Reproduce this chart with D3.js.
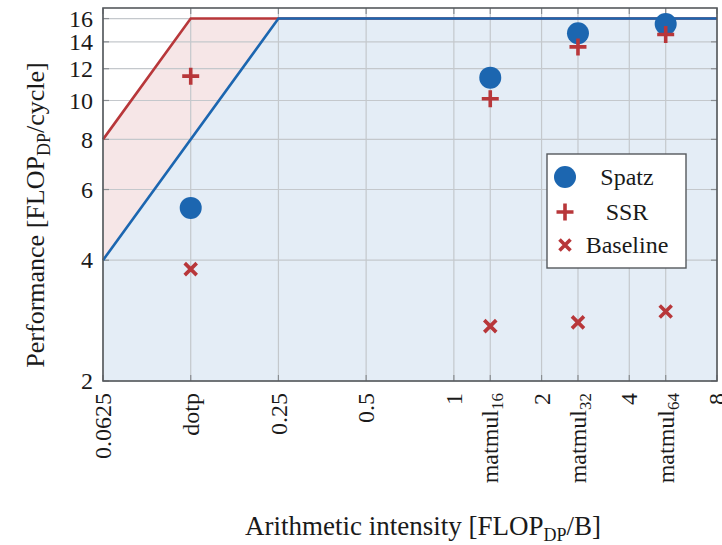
<!DOCTYPE html>
<html>
<head>
<meta charset="utf-8">
<script src="https://cdn.jsdelivr.net/npm/d3@7"></script>
<style>
  body { margin: 0; background: #fff; }
  svg { display: block; font-family: "Liberation Serif", "DejaVu Serif", serif; }
</style>
</head>
<body>
<svg id="chart" width="722" height="545"></svg>
<script>
// benchmark positions on the intensity axis
const kernels = ["dotp", "matmul16", "matmul32", "matmul64"];
const intensity = [0.125, 4 / 3, 8 / 3, 16 / 3];
const spatzPerf = [5.4, 11.4, 14.7, 15.5];
const ssrPerf = [11.5, 10.1, 13.6, 14.6];
const basePerf = [3.8, 2.74, 2.8, 2.98];

// rooflines: [intensity, performance] corners
const roofSSR = [[0.0625, 8], [0.125, 16], [8, 16]];
const roofSpatz = [[0.0625, 4], [0.25, 16], [8, 16]];

const xTicks = [0.0625, 0.125, 0.25, 0.5, 1, 4 / 3, 2, 8 / 3, 4, 16 / 3, 8];
const xTickLabels = ["0.0625", "dotp", "0.25", "0.5", "1", "matmul|16", "2", "matmul|32", "4", "matmul|64", "8"];
const yTicks = [2, 4, 6, 8, 10, 12, 14, 16];

const blue = "#1c66b0", red = "#b8373a", ink = "#1a1a1a";
const pl = 103, pr = 717, pt = 8, pb = 381;

const svg = d3.select("#chart");
const x = d3.scaleLog().base(2).domain([0.0625, 8]).range([pl, pr]);
const y = d3.scaleLog().base(2).domain([2, 17]).range([pb, pt]);

// fills under the rooflines
const area = d3.area().x(d => x(d[0])).y0(pb).y1(d => y(d[1]));
svg.append("path").attr("d", area(roofSSR)).attr("fill", "#f6e6e7");
svg.append("path").attr("d", area(roofSpatz)).attr("fill", "#e4edf6");

// grid
const grid = svg.append("g").attr("stroke", "#c4c8cc").attr("stroke-width", 1.2);
xTicks.forEach(t => {
  grid.append("line").attr("x1", x(t)).attr("x2", x(t)).attr("y1", pt).attr("y2", pb);
});
yTicks.forEach(t => {
  grid.append("line").attr("x1", pl).attr("x2", pr).attr("y1", y(t)).attr("y2", y(t));
});

// little inner ticks
const tk = svg.append("g").attr("stroke", "#8a8e92").attr("stroke-width", 1.2);
xTicks.forEach(t => {
  tk.append("line").attr("x1", x(t)).attr("x2", x(t)).attr("y1", pb).attr("y2", pb - 6);
  tk.append("line").attr("x1", x(t)).attr("x2", x(t)).attr("y1", pt).attr("y2", pt + 6);
});
yTicks.forEach(t => {
  tk.append("line").attr("x1", pl).attr("x2", pl + 6).attr("y1", y(t)).attr("y2", y(t));
  tk.append("line").attr("x1", pr).attr("x2", pr - 6).attr("y1", y(t)).attr("y2", y(t));
});

// rooflines
const line = d3.line().x(d => x(d[0])).y(d => y(d[1]));
svg.append("path").attr("d", line(roofSSR)).attr("fill", "none").attr("stroke", red).attr("stroke-width", 2.6);
svg.append("path").attr("d", line(roofSpatz)).attr("fill", "none").attr("stroke", blue).attr("stroke-width", 2.6);

// frame
svg.append("rect").attr("x", pl).attr("y", pt).attr("width", pr - pl).attr("height", pb - pt)
  .attr("fill", "none").attr("stroke", "#55595d").attr("stroke-width", 1.6);

function plus(g, cx, cy, s) {
  g.append("path").attr("d", `M${cx - s},${cy}H${cx + s}M${cx},${cy - s}V${cy + s}`)
    .attr("stroke", red).attr("stroke-width", 3.6).attr("fill", "none");
}
function cross(g, cx, cy, s) {
  g.append("path").attr("d", `M${cx - s},${cy - s}L${cx + s},${cy + s}M${cx - s},${cy + s}L${cx + s},${cy - s}`)
    .attr("stroke", red).attr("stroke-width", 3.6).attr("fill", "none");
}

// markers
const marks = svg.append("g");
kernels.forEach((k, i) => {
  cross(marks, x(intensity[i]), y(basePerf[i]), 6);
  marks.append("circle").attr("cx", x(intensity[i])).attr("cy", y(spatzPerf[i])).attr("r", 11).attr("fill", blue);
  plus(marks, x(intensity[i]), y(ssrPerf[i]), 8.5);
});

// y tick labels
svg.append("g").selectAll("text").data(yTicks).join("text")
  .attr("x", 93).attr("y", d => y(d)).attr("dy", "0.34em")
  .attr("text-anchor", "end").attr("font-size", 24).attr("fill", ink)
  .text(d => d);

// x tick labels, rotated
const xl = svg.append("g");
xTicks.forEach((t, i) => {
  const parts = xTickLabels[i].split("|");
  const txt = xl.append("text")
    .attr("transform", `translate(${x(t)},${pb + 12}) rotate(-90)`)
    .attr("text-anchor", "end").attr("dy", "0.34em")
    .attr("font-size", 24).attr("fill", ink);
  txt.append("tspan").text(parts[0]);
  if (parts[1]) {
    txt.append("tspan").attr("dy", 5).attr("font-size", 17).text(parts[1]);
  }
});

// axis titles
const xt = svg.append("text").attr("x", 423).attr("y", 535).attr("text-anchor", "middle")
  .attr("font-size", 27).attr("fill", ink);
xt.append("tspan").text("Arithmetic intensity [FLOP");
xt.append("tspan").attr("dy", 6).attr("font-size", 18).text("DP");
xt.append("tspan").attr("dy", -6).text("/B]");

const yt = svg.append("text").attr("transform", `translate(44,215) rotate(-90)`).attr("text-anchor", "middle")
  .attr("font-size", 26).attr("fill", ink);
yt.append("tspan").text("Performance [FLOP");
yt.append("tspan").attr("dy", 6).attr("font-size", 18).text("DP");
yt.append("tspan").attr("dy", -6).text("/cycle]");

// legend
const lg = svg.append("g");
lg.append("rect").attr("x", 547).attr("y", 154).attr("width", 139).attr("height", 114)
  .attr("fill", "#fff").attr("stroke", "#55595d").attr("stroke-width", 1.4);
lg.append("circle").attr("cx", 565).attr("cy", 177).attr("r", 11).attr("fill", blue);
plus(lg, 565, 212, 8.5);
cross(lg, 565, 245, 5.5);
const legendNames = ["Spatz", "SSR", "Baseline"];
const legendY = [177, 212, 245];
legendNames.forEach((n, i) => {
  lg.append("text").attr("x", 627).attr("y", legendY[i]).attr("dy", "0.34em")
    .attr("text-anchor", "middle").attr("font-size", 24).attr("fill", ink).text(n);
});
</script>
</body>
</html>
